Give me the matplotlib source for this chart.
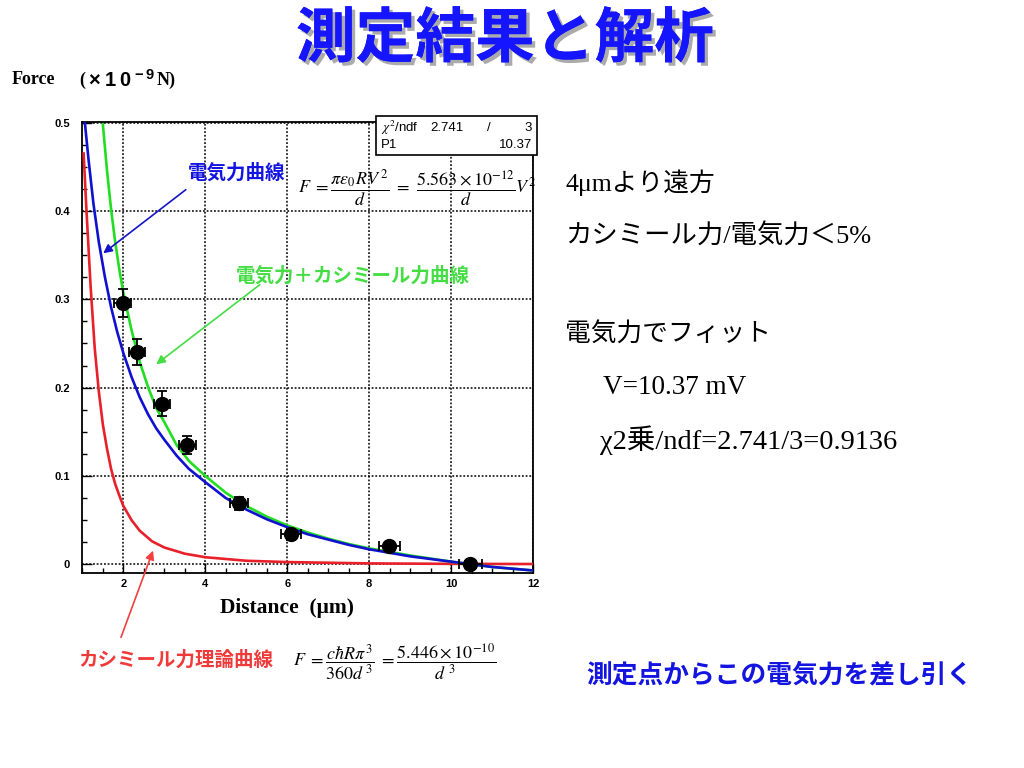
import matplotlib
matplotlib.use("Agg")
import matplotlib.pyplot as plt
import matplotlib.patheffects as pe
from matplotlib.patches import Rectangle, FancyArrowPatch
from matplotlib.ticker import MultipleLocator, FixedLocator

plt.rcParams["font.family"] = ["Noto Sans CJK JP", "DejaVu Sans"]
plt.rcParams["mathtext.fontset"] = "stix"

# measured points (distance in um, force in 1e-9 N)
dist = [1.98, 2.33, 2.94, 3.56, 4.83, 6.09, 8.49, 10.47]
force = [0.296, 0.240, 0.182, 0.135, 0.069, 0.034, 0.021, 0.0]
force_err = [0.016, 0.0145, 0.014, 0.010, 0.007, 0.006, 0.004, 0.004]
dist_err = [0.21, 0.20, 0.20, 0.21, 0.22, 0.25, 0.26, 0.28]

# curves
elec_x = [1.06, 1.15, 1.27, 1.40, 1.55, 1.70, 1.85, 2.00, 2.20, 2.40, 2.60, 2.80,
          3.00, 3.30, 3.60, 4.00, 4.50, 5.00, 5.50, 6.00, 6.50, 7.00, 7.50, 8.00,
          9.00, 10.0, 11.0, 12.0]
elec_y = [0.500, 0.458, 0.408, 0.365, 0.325, 0.291, 0.263, 0.239, 0.212, 0.189,
          0.170, 0.154, 0.141, 0.123, 0.108, 0.093, 0.075, 0.062, 0.051, 0.042,
          0.034, 0.028, 0.022, 0.017, 0.009, 0.003, -0.003, -0.007]

sum_x = [1.50, 1.60, 1.70, 1.80, 1.90, 2.00, 2.20, 2.40, 2.60, 2.80, 3.00, 3.30,
         3.60, 4.00, 4.50, 5.00, 5.50, 6.00, 6.50, 7.00, 7.50, 8.00, 9.00, 10.0,
         11.0, 12.0]
sum_y = [0.498, 0.446, 0.402, 0.365, 0.334, 0.307, 0.265, 0.229, 0.201, 0.177,
         0.161, 0.135, 0.117, 0.100, 0.081, 0.066, 0.054, 0.044, 0.036, 0.029,
         0.023, 0.018, 0.010, 0.003, -0.003, -0.007]

cas_x = [1.03, 1.10, 1.20, 1.30, 1.40, 1.50, 1.60, 1.70, 1.80, 1.90, 2.00, 2.20,
         2.40, 2.70, 3.00, 3.50, 4.00, 5.00, 6.00, 8.00, 10.0, 12.0]
cas_y = [0.465, 0.400, 0.315, 0.245, 0.196, 0.158, 0.131, 0.108, 0.091, 0.078,
         0.066, 0.050, 0.038, 0.026, 0.019, 0.012, 0.008, 0.004, 0.0025, 0.001,
         0.0005, 0.0003]

xticks = [2, 4, 6, 8, 10, 12]
yticks = [0, 0.1, 0.2, 0.3, 0.4, 0.5]
ytick_labels = ["0", "0.1", "0.2", "0.3", "0.4", "0.5"]

W, H = 1024, 768


def fp(x, y):
    return x / W, 1 - y / H


fig = plt.figure(figsize=(10.24, 7.68), dpi=100)
ax = fig.add_axes([82.4 / W, 1 - 573.3 / H, 450.6 / W, 451.6 / H])

ax.plot(cas_x, cas_y, color="#e8202a", lw=1.9, zorder=3)
ax.plot(sum_x, sum_y, color="#22dd22", lw=1.9, zorder=3)
ax.plot(elec_x, elec_y, color="#1010d0", lw=1.9, zorder=4)
ax.errorbar(dist, force, yerr=force_err, xerr=dist_err, fmt="o", color="k",
            ms=10, elinewidth=1.3, capsize=3.8, capthick=1.3, zorder=5)

ax.set_xlim(1, 12)
ax.set_ylim(-0.0102, 0.501)
ax.xaxis.set_major_locator(FixedLocator(xticks))
ax.set_xticklabels([str(t) for t in xticks])
ax.yaxis.set_major_locator(FixedLocator(yticks))
ax.set_yticklabels(ytick_labels)
ax.xaxis.set_minor_locator(MultipleLocator(0.5))
ax.yaxis.set_minor_locator(MultipleLocator(0.025))
ax.tick_params(which="both", direction="in", top=False, right=False)
ax.tick_params(which="major", length=7, width=1)
ax.tick_params(which="minor", length=3.5, width=1)
ax.tick_params(axis="y", pad=9)
ax.tick_params(axis="x", pad=4)
for lab in ax.get_xticklabels() + ax.get_yticklabels():
    lab.set_family(["Liberation Sans"])
    lab.set_fontweight("bold")
    lab.set_fontsize(8)
for s in ax.spines.values():
    s.set_linewidth(1.3)
ax.grid(which="major", linestyle=(0, (1.2, 1.2)), color="k", lw=1.1)

# stats box
box = Rectangle(fp(376, 155), 161 / W, 39 / H, transform=fig.transFigure,
                facecolor="white", edgecolor="k", lw=1.2, zorder=10)
fig.add_artist(box)
sb = dict(fontsize=9.5, family=["Liberation Sans"], zorder=11, va="center")
fig.text(*fp(381, 128), r"$\chi^2$/ndf", ha="left", **sb)
fig.text(*fp(464, 128), "2.741", ha="right", **sb)
fig.text(*fp(489, 128), "/", ha="center", **sb)
fig.text(*fp(532, 128), "3", ha="right", **sb)
fig.text(*fp(381, 145), "P1", ha="left", **sb)
fig.text(*fp(532, 145), "10.37", ha="right", **sb)

# title
fig.text(*fp(505, 40), "測定結果と解析", fontsize=43, fontweight="bold",
         color="#1515ff", ha="center", va="center",
         path_effects=[pe.withSimplePatchShadow(offset=(2.5, -2.5),
                                                shadow_rgbFace="#888888", alpha=0.7),
                       pe.Normal()])

serif = ["Liberation Serif", "Noto Sans CJK JP"]
sans_b = dict(fontweight="bold", family=["Liberation Sans"], ha="center", va="center")
fig.text(*fp(12, 80), "Force", fontsize=13, fontweight="bold",
         family=serif, ha="left", va="center")
fig.text(*fp(79, 80), "(", fontsize=13, fontweight="bold",
         family=serif, ha="left", va="center")
fig.text(*fp(94, 81), "×", fontsize=14.5, **sans_b)
fig.text(*fp(110, 80), "1", fontsize=14.5, **sans_b)
fig.text(*fp(125, 80), "0", fontsize=14.5, **sans_b)
fig.text(*fp(139, 75), "−", fontsize=10.5, **sans_b)
fig.text(*fp(150, 75), "9", fontsize=10.5, **sans_b)
fig.text(*fp(157, 80), "N)", fontsize=13, fontweight="bold",
         family=serif, ha="left", va="center")
fig.text(*fp(287, 608), "Distance  (μm)", fontsize=15.5, fontweight="bold",
         family=serif, ha="center", va="center")

# formulas
fig.text(*fp(298, 188),
         r"$F\ =\dfrac{\pi\varepsilon_0 RV^{\,2}}{d}\ =\ \dfrac{5.563\times10^{-12}}{d}V^{2}$",
         fontsize=13, ha="left", va="center")
fig.text(*fp(293, 662),
         r"$F\ =\dfrac{c\hbar R\pi^{3}}{360d^{\,3}}\ =\dfrac{5.446\times10^{-10}}{d^{\ 3}}$",
         fontsize=13, ha="left", va="center")

# annotations
fig.text(*fp(237, 173), "電気力曲線", fontsize=14, fontweight="bold",
         color="#1414e0", ha="center", va="center")
fig.text(*fp(353, 276), "電気力＋カシミール力曲線", fontsize=14, fontweight="bold",
         color="#44dd44", ha="center", va="center")
fig.text(*fp(176, 660), "カシミール力理論曲線", fontsize=14, fontweight="bold",
         color="#f03a3a", ha="center", va="center")

for tail, head, col in [((188, 188), (101, 255), "#1414c8"),
                        ((262, 283), (154, 366), "#44dd44"),
                        ((120, 640), (154, 548), "#f04040")]:
    fig.add_artist(FancyArrowPatch(
        fp(*tail), fp(*head), transform=fig.transFigure, arrowstyle="-|>",
        mutation_scale=13, color=col, lw=1.2, zorder=12))

# right hand notes
fig.text(*fp(565, 183), "4μmより遠方", fontsize=18.5, family=serif,
         ha="left", va="center")
fig.text(*fp(565, 235), "カシミール力/電気力＜5%", fontsize=19, family=serif,
         ha="left", va="center")
fig.text(*fp(565, 335), "電気力でフィット", fontsize=18.5, family=serif,
         ha="left", va="center")
fig.text(*fp(603, 387), "V=10.37 mV", fontsize=19.5, family=serif,
         ha="left", va="center")
fig.text(*fp(600, 440), "χ2乗/ndf=2.741/3=0.9136", fontsize=20.5, family=serif,
         ha="left", va="center")
fig.text(*fp(779, 675), "測定点からこの電気力を差し引く", fontsize=18.5,
         fontweight="bold", color="#1414e0", ha="center", va="center")

fig.savefig("out.png", dpi=100)
